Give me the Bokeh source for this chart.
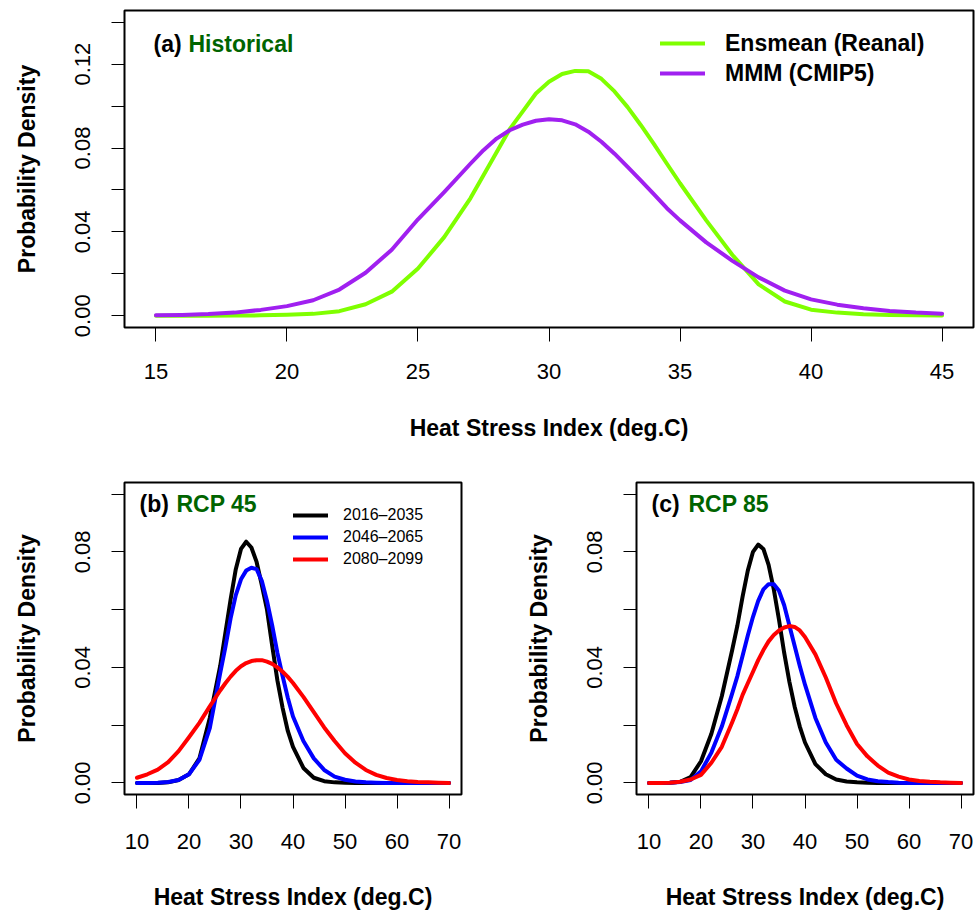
from bokeh.plotting import figure
from bokeh.layouts import column, row
from bokeh.models import FixedTicker, PrintfTickFormatter, Legend, LegendItem, Label, Range1d
from bokeh.embed import file_html
from bokeh.resources import INLINE

FONT = "Liberation Sans"

# ---------------- data: panel (a) Historical ----------------
hist_x = [15, 16, 17, 18, 19, 20, 21, 22, 23, 24, 25, 26, 27, 27.5, 28, 28.5, 29, 29.5,
          30, 30.5, 31, 31.5, 32, 32.5, 33, 33.5, 34, 34.5, 35, 36, 37, 38, 39, 40,
          41, 42, 43, 44, 45]
ensmean_reanal = [0.0000, 0.0000, 0.0000, 0.0001, 0.0002, 0.0005, 0.0009, 0.0022,
                  0.0055, 0.0115, 0.0225, 0.0375, 0.0560, 0.0670, 0.0780, 0.0890,
                  0.0975, 0.1060, 0.1116, 0.1153, 0.1168, 0.1166, 0.1130, 0.1070,
                  0.0995, 0.0910, 0.0820, 0.0725, 0.0632, 0.0455, 0.0290, 0.0150,
                  0.0068, 0.0029, 0.0015, 0.0007, 0.0004, 0.0002, 0.0001]
mmm_cmip5 = [0.0002, 0.0004, 0.0008, 0.0015, 0.0028, 0.0046, 0.0074, 0.0125,
             0.0205, 0.0315, 0.0460, 0.0590, 0.0725, 0.0790, 0.0845, 0.0885,
             0.0912, 0.0930, 0.0937, 0.0932, 0.0913, 0.0878, 0.0830, 0.0773,
             0.0710, 0.0646, 0.0580, 0.0513, 0.0455, 0.0350, 0.0262, 0.0183,
             0.0120, 0.0078, 0.0053, 0.0036, 0.0023, 0.0015, 0.0010]
hist_names = ["Ensmean (Reanal)", "MMM (CMIP5)"]

# ---------------- data: panels (b) RCP 45 and (c) RCP 85 ----------------
proj_x = [10, 12, 14, 16, 18, 20, 22, 24, 26, 27, 28, 29, 30, 31, 32, 33, 34, 35, 36,
          37, 38, 39, 40, 42, 44, 46, 48, 50, 52, 54, 56, 58, 60, 62, 64, 66, 68, 70]
period_names = ["2016\u20132035", "2046\u20132065", "2080\u20132099"]

rcp45_2016_2035 = [0.0000, 0.0000, 0.0000, 0.0002, 0.0010, 0.0030, 0.0085, 0.0225, 0.0405,
                   0.0520, 0.0635, 0.0740, 0.0810, 0.0835, 0.0815, 0.0765, 0.0685, 0.0600,
                   0.0475, 0.0355, 0.0260, 0.0180, 0.0125, 0.0052, 0.0018, 0.0006, 0.0002,
                   0.0001, 0.0000, 0.0000, 0.0000, 0.0000, 0.0000, 0.0000, 0.0000, 0.0000,
                   0.0000, 0.0000]
rcp45_2046_2065 = [0.0000, 0.0000, 0.0001, 0.0003, 0.0010, 0.0030, 0.0080, 0.0190, 0.0380,
                   0.0470, 0.0570, 0.0650, 0.0705, 0.0735, 0.0745, 0.0740, 0.0700, 0.0630,
                   0.0545, 0.0450, 0.0370, 0.0295, 0.0230, 0.0145, 0.0085, 0.0045, 0.0022,
                   0.0011, 0.0005, 0.0002, 0.0001, 0.0000, 0.0000, 0.0000, 0.0000, 0.0000,
                   0.0000, 0.0000]
rcp45_2080_2099 = [0.0018, 0.0030, 0.0046, 0.0072, 0.0110, 0.0158, 0.0208, 0.0265, 0.0320,
                   0.0345, 0.0368, 0.0388, 0.0404, 0.0415, 0.0422, 0.0425, 0.0425, 0.0420,
                   0.0412, 0.0400, 0.0385, 0.0367, 0.0346, 0.0298, 0.0245, 0.0192, 0.0145,
                   0.0103, 0.0070, 0.0045, 0.0028, 0.0017, 0.0010, 0.0006, 0.0003, 0.0002,
                   0.0001, 0.0000]

rcp85_2016_2035 = [0.0000, 0.0000, 0.0001, 0.0004, 0.0020, 0.0075, 0.0170, 0.0300, 0.0460,
                   0.0545, 0.0645, 0.0735, 0.0800, 0.0825, 0.0810, 0.0755, 0.0670, 0.0565,
                   0.0450, 0.0350, 0.0265, 0.0195, 0.0140, 0.0065, 0.0030, 0.0012, 0.0005,
                   0.0002, 0.0001, 0.0000, 0.0000, 0.0000, 0.0000, 0.0000, 0.0000, 0.0000,
                   0.0000, 0.0000]
rcp85_2046_2065 = [0.0000, 0.0000, 0.0001, 0.0003, 0.0010, 0.0040, 0.0105, 0.0195, 0.0310,
                   0.0370, 0.0440, 0.0510, 0.0575, 0.0630, 0.0670, 0.0688, 0.0688, 0.0665,
                   0.0615, 0.0545, 0.0475, 0.0405, 0.0340, 0.0225, 0.0140, 0.0080, 0.0050,
                   0.0025, 0.0012, 0.0006, 0.0003, 0.0001, 0.0000, 0.0000, 0.0000, 0.0000,
                   0.0000, 0.0000]
rcp85_2080_2099 = [0.0000, 0.0000, 0.0001, 0.0004, 0.0012, 0.0028, 0.0070, 0.0125, 0.0210,
                   0.0255, 0.0305, 0.0345, 0.0385, 0.0425, 0.0460, 0.0490, 0.0512, 0.0528,
                   0.0538, 0.0543, 0.0540, 0.0528, 0.0505, 0.0445, 0.0365, 0.0275, 0.0200,
                   0.0135, 0.0092, 0.0060, 0.0036, 0.0022, 0.0012, 0.0007, 0.0004, 0.0002,
                   0.0001, 0.0000]

hist_xticks = [15, 20, 25, 30, 35, 40, 45]
hist_yticks = [0.00, 0.04, 0.08, 0.12]
hist_yminor = [0.02, 0.06, 0.10, 0.14]
proj_xticks = [10, 20, 30, 40, 50, 60, 70]
proj_yticks = [0.00, 0.04, 0.08]
proj_yminor = [0.02, 0.06, 0.10]

# ---------------- styles ----------------
HIST_COLORS = ["#7FFF00", "#A020F0"]
PERIOD_COLORS = ["#000000", "#0000FF", "#FF0000"]
TITLE_GREEN = "#006400"
LW = 4


def make_fig(width, height, xr, yr, xticks, yticks, yminor, left, right, top, bottom,
             lab_standoff_x, title_standoff_x):
    p = figure(width=width, height=height, x_range=Range1d(*xr), y_range=Range1d(*yr),
               output_backend="svg", toolbar_location=None,
               min_border_left=left, min_border_right=right,
               min_border_top=top, min_border_bottom=bottom)
    p.background_fill_color = "white"
    p.border_fill_color = "white"
    p.outline_line_color = "black"
    p.outline_line_width = 2
    p.xgrid.visible = False
    p.ygrid.visible = False
    p.xaxis.ticker = FixedTicker(ticks=xticks, minor_ticks=[])
    p.yaxis.ticker = FixedTicker(ticks=yticks, minor_ticks=yminor)
    p.yaxis.formatter = PrintfTickFormatter(format="%.2f")
    p.xaxis.formatter = PrintfTickFormatter(format="%d")
    for ax in (p.xaxis[0], p.yaxis[0]):
        ax.axis_line_color = None
        ax.major_tick_line_color = "black"
        ax.minor_tick_line_color = "black"
        ax.major_tick_line_width = 1
        ax.minor_tick_line_width = 1
        ax.major_tick_in = 0
        ax.minor_tick_in = 0
        ax.major_label_text_font = FONT
        ax.major_label_text_font_size = "22px"
        ax.major_label_text_color = "black"
        ax.axis_label_text_font = FONT
        ax.axis_label_text_font_size = "23px"
        ax.axis_label_text_font_style = "bold"
        ax.axis_label_text_color = "black"
    p.xaxis.major_tick_out = 14
    p.yaxis.major_tick_out = 13
    p.yaxis.minor_tick_out = 13
    p.xaxis.major_label_standoff = lab_standoff_x
    p.xaxis.axis_label_standoff = title_standoff_x
    p.yaxis.major_label_standoff = 21
    p.yaxis.axis_label_standoff = 33
    p.yaxis.major_label_orientation = "vertical"
    p.xaxis.axis_label = "Heat Stress Index (deg.C)"
    p.yaxis.axis_label = "Probability Density"
    return p


def panel_title(p, prefix, name, x0, x1, y):
    p.add_layout(Label(x=x0, y=y, x_units="screen", y_units="screen", text=prefix,
                       text_font=FONT, text_font_size="23px", text_font_style="bold",
                       text_color="black", text_baseline="middle"))
    p.add_layout(Label(x=x1, y=y, x_units="screen", y_units="screen", text=name,
                       text_font=FONT, text_font_size="23px", text_font_style="bold",
                       text_color=TITLE_GREEN, text_baseline="middle"))


# ---------------- panel (a) ----------------
pa = make_fig(977, 448, (13.8, 46.2), (-0.0056, 0.1456), hist_xticks, hist_yticks, hist_yminor,
              124, 4, 10, 121, 22, 33)
ra = []
for ys, col in zip([ensmean_reanal, mmm_cmip5], HIST_COLORS):
    ra.append(pa.line(hist_x, ys, line_color=col, line_width=LW,
                      line_cap="round", line_join="round"))
panel_title(pa, "(a)", "Historical", 29, 64, 284)
leg_a = Legend(items=[LegendItem(label=n, renderers=[r]) for n, r in zip(hist_names, ra)],
               location=(536, 239), glyph_width=45, glyph_height=30, label_height=30,
               label_standoff=20, spacing=0, padding=0, margin=0,
               label_text_font=FONT, label_text_font_size="23px",
               label_text_font_style="bold", label_text_color="black",
               border_line_color=None, background_fill_alpha=0)
pa.add_layout(leg_a)

# ---------------- panels (b) and (c) ----------------
def proj_panel(width, left, right, series, prefix, name, with_legend):
    p = make_fig(width, 464, (7.6, 72.4), (-0.004, 0.104), proj_xticks, proj_yticks,
                 proj_yminor, left, right, 34, 114, 25, 32)
    rs = []
    for ys, col in zip(series, PERIOD_COLORS):
        rs.append(p.line(proj_x, ys, line_color=col, line_width=LW,
                         line_cap="round", line_join="round"))
    panel_title(p, prefix, name, 15, 52, 291)
    if with_legend:
        leg = Legend(items=[LegendItem(label=n, renderers=[r]) for n, r in zip(period_names, rs)],
                     location=(169, 224), glyph_width=35, glyph_height=22, label_height=22,
                     label_standoff=15, spacing=0, padding=0, margin=0,
                     label_text_font=FONT, label_text_font_size="16px",
                     label_text_color="black",
                     border_line_color=None, background_fill_alpha=0)
        p.add_layout(leg)
    return p


pb = proj_panel(490, 124, 29, [rcp45_2016_2035, rcp45_2046_2065, rcp45_2080_2099],
                "(b)", "RCP 45", True)
pc = proj_panel(487, 146, 4, [rcp85_2016_2035, rcp85_2046_2065, rcp85_2080_2099],
                "(c)", "RCP 85", False)

layout = column(pa, row(pb, pc))
open("out.html", "w").write(file_html(layout, INLINE))
